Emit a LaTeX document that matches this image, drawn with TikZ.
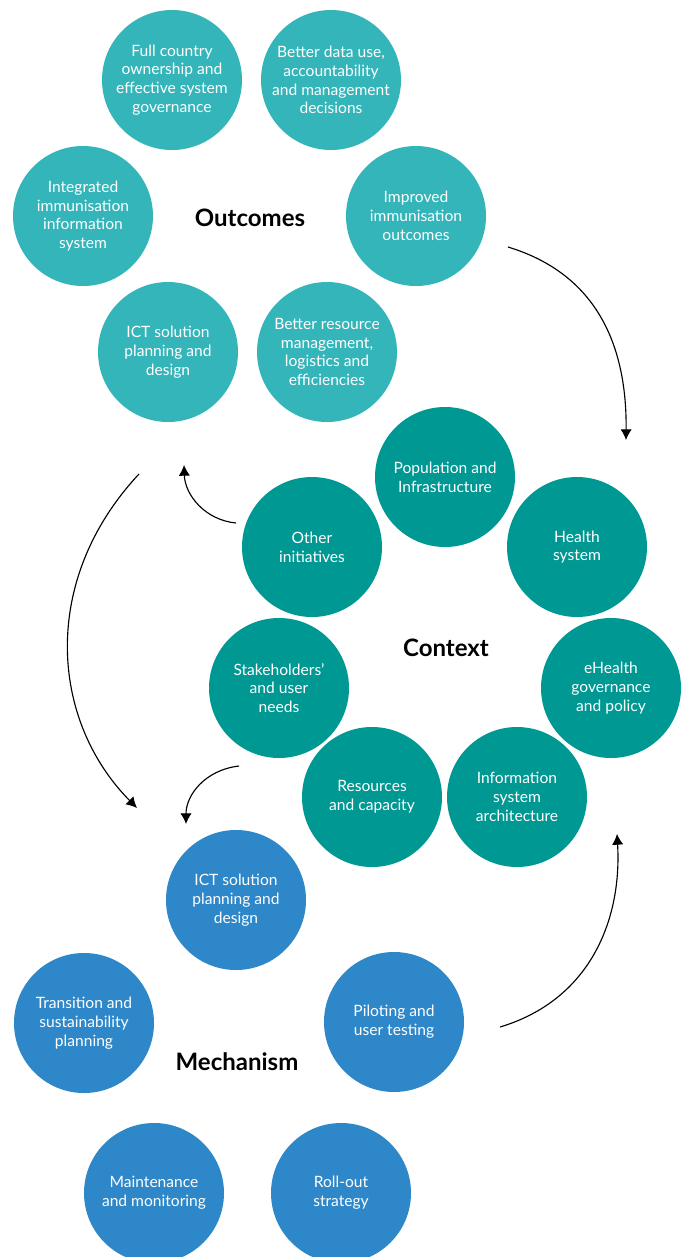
\documentclass[tikz,border=0pt]{standalone}
\usepackage{fontspec}
\setmainfont{Lato}
\usetikzlibrary{arrows.meta}
\definecolor{outcol}{HTML}{34B5BA}
\definecolor{ctxcol}{HTML}{009893}
\definecolor{mechcol}{HTML}{2D87C8}
\def\s{0.75pt}
\def\punkt#1#2{({(#1)*\s},{-(#2)*\s})}
\tikzset{
  blob/.style={circle,minimum size=105pt,inner sep=0pt,align=center,
    text=white,font=\fontsize{11.7}{14.1}\selectfont},
  outc/.style={blob,fill=outcol},
  ctx/.style={blob,fill=ctxcol},
  mech/.style={blob,fill=mechcol},
  title/.style={font=\fontsize{18}{21}\selectfont\bfseries}
}

\begin{document}
\begin{tikzpicture}[>={Latex[length=8pt,width=8.5pt]},line width=0.85pt]
\clip \punkt{0}{0} rectangle \punkt{684}{1257};
\fill[white] \punkt{0}{0} rectangle \punkt{684}{1257};
% outcomes
\node[outc] (full) at \punkt{172}{80} {Full country\\ownership and\\effective system\\governance};
\node[outc] (data) at \punkt{331}{80} {Better data use,\\accountability\\and management\\decisions};
\node[outc] (iis) at \punkt{83}{216} {Integrated\\immunisation\\information\\system};
\node[outc] (impr) at \punkt{416}{216} {Improved\\immunisation\\outcomes};
\node[outc] (ictout) at \punkt{168}{352} {ICT solution\\planning and\\design};
\node[outc] (resm) at \punkt{327}{352} {Better resource\\management,\\logistics and\\efficiencies};
\node[title] (outlbl) at \punkt{250}{218} {Outcomes};
% context
\node[ctx] (pop) at \punkt{445}{477} {Population and\\Infrastructure};
\node[ctx] (health) at \punkt{577}{547} {Health\\system};
\node[ctx] (other) at \punkt{312}{547} {Other\\initiatives};
\node[ctx] (stake) at \punkt{279}{688} {Stakeholders’\\and user\\needs};
\node[ctx] (ehealth) at \punkt{611}{688} {eHealth\\governance\\and policy};
\node[ctx] (rescap) at \punkt{372}{797} {Resources\\and capacity};
\node[ctx] (isa) at \punkt{517}{797} {Information\\system\\architecture};
\node[title] (ctxlbl) at \punkt{446}{648} {Context};
% mechanism
\node[mech] (ictmech) at \punkt{236}{900} {ICT solution\\planning and\\design};
\node[mech] (trans) at \punkt{84}{1023} {Transition and\\sustainability\\planning};
\node[mech] (pilot) at \punkt{394}{1022} {Piloting and\\user testing};
\node[mech] (maint) at \punkt{154}{1193} {Maintenance\\and monitoring};
\node[mech] (roll) at \punkt{341}{1193} {Roll-out\\strategy};
\node[title] (mechlbl) at \punkt{237}{1062} {Mechanism};
% arrows
\path \punkt{508}{247} coordinate (a1) \punkt{626}{440} coordinate (a2);
\path \punkt{236}{523} coordinate (b1) \punkt{184}{465} coordinate (b2);
\path \punkt{139}{474} coordinate (c1) \punkt{137}{808} coordinate (c2);
\path \punkt{239}{766} coordinate (d1) \punkt{186}{824} coordinate (d2);
\path \punkt{500}{1027} coordinate (e1) \punkt{617}{834} coordinate (e2);
\draw[->] (a1) .. controls \punkt{600}{275} and \punkt{627}{350} .. (a2);
\draw[->] (b1) .. controls \punkt{205}{520} and \punkt{185}{495} .. (b2);
\draw[->] (c1) .. controls \punkt{40}{580} and \punkt{50}{720} .. (c2);
\draw[->] (d1) .. controls \punkt{205}{770} and \punkt{186}{795} .. (d2);
\draw[->] (e1) .. controls \punkt{590}{1000} and \punkt{622}{920} .. (e2);
\end{tikzpicture}
\end{document}
